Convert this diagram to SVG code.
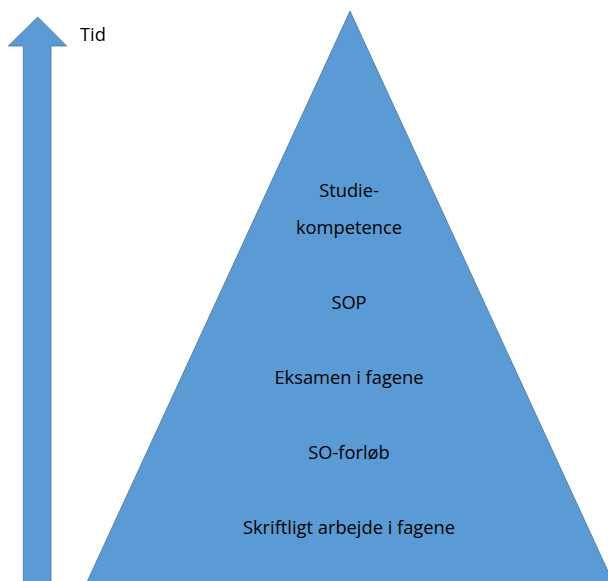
<svg xmlns="http://www.w3.org/2000/svg" width="608" height="581" viewBox="0 0 608 581">
  <style>
    .shape { fill: #5B9BD5; stroke: #41719C; stroke-width: 0.75; }
    .label { font-family: "Open Sans", "Liberation Sans", sans-serif; font-size: 18.3px; fill: #000; text-anchor: middle; }
  </style>
  <rect width="608" height="581" fill="#fff"/>
  <g id="time-arrow">
    <polygon class="shape" points="37.7,17 8.3,46 23.3,46 23.3,590 51,590 51,46 66.7,46"/>
    <text class="label" x="80" y="41" style="text-anchor:start">Tid</text>
  </g>
  <g id="pyramid">
    <polygon class="shape" points="350,11 87,582 613,582"/>
  </g>
  <g id="studiekompetence">
    <text class="label" x="349" y="197">Studie-</text>
    <text class="label" x="349" y="234">kompetence</text>
  </g>
  <g id="sop"><text class="label" x="349" y="309">SOP</text></g>
  <g id="eksamen"><text class="label" x="349" y="384">Eksamen i fagene</text></g>
  <g id="so-forlob"><text class="label" x="349" y="459">SO-forløb</text></g>
  <g id="skriftligt"><text class="label" x="349" y="534">Skriftligt arbejde i fagene</text></g>
  <g id="connectors"/>
</svg>
